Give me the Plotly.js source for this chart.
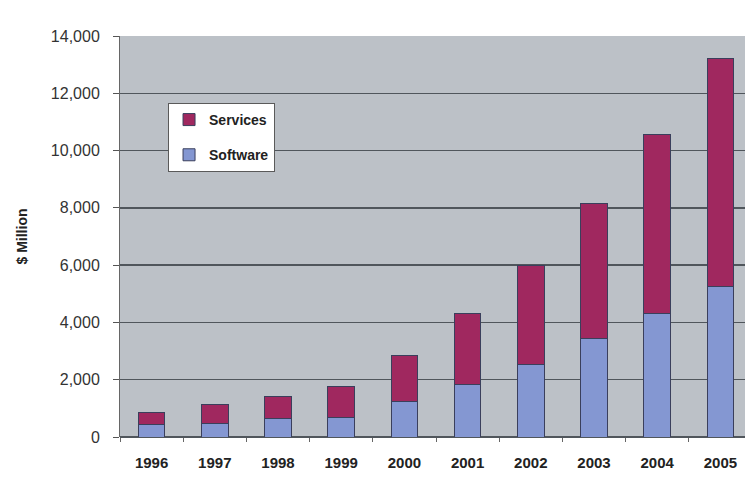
<!DOCTYPE html>
<html>
<head>
<meta charset="utf-8">
<script src="https://cdn.plot.ly/plotly-3.0.1.min.js"></script>
<style>
html,body{margin:0;padding:0;overflow:hidden;background:#fff;}
#chart{width:752px;height:478px;}
</style>
</head>
<body>
<div id="chart"></div>
<script>
const years = ["1996","1997","1998","1999","2000","2001","2002","2003","2004","2005"];
const software = [450, 470, 640, 680, 1225, 1850, 2530, 3450, 4320, 5250];
const services = [420, 650, 760, 1080, 1635, 2450, 3470, 4700, 6250, 7950];
const yTicks = [0, 2000, 4000, 6000, 8000, 10000, 12000, 14000];
const yTickLabels = ["0", "2,000", "4,000", "6,000", "8,000", "10,000", "12,000", "14,000"];

const lineStyle = {color: "#3a3f5c", width: 1};
const traces = [
  {type: "bar", name: "Software", x: years, y: software, legendgroup: "a", legendrank: 2,
   marker: {color: "#8497D2", line: lineStyle}, hoverinfo: "skip"},
  {type: "bar", name: "Services", x: years, y: services, legendgroup: "b", legendrank: 1,
   marker: {color: "#A0285F", line: lineStyle}, hoverinfo: "skip"}
];

const layout = {
  width: 752, height: 478,
  margin: {l: 120, r: 0, t: 36, b: 41},
  paper_bgcolor: "#ffffff",
  plot_bgcolor: "#BCC1C7",
  barmode: "stack",
  bargap: 0.58,
  showlegend: true,
  legend: {
    x: 0.076, y: 0.833, xanchor: "left", yanchor: "top",
    bgcolor: "#ffffff", bordercolor: "#5a5a5a", borderwidth: 1,
    traceorder: "grouped", tracegroupgap: 14,
    font: {family: "Liberation Sans, Arial, sans-serif", size: 14, color: "#222", weight: "bold"},
    itemwidth: 30
  },
  xaxis: {
    type: "category",
    tickson: "boundaries",
    ticks: "outside", ticklen: 4, tickcolor: "#666",
    showline: false, showgrid: false,
    tickfont: {family: "Liberation Sans, Arial, sans-serif", size: 15, color: "#222", weight: "bold"},
    ticklabelstandoff: 15
  },
  yaxis: {
    range: [0, 14000],
    tickvals: yTicks, ticktext: yTickLabels,
    ticks: "outside", ticklen: 6, tickcolor: "#555",
    showline: true, linecolor: "#666", linewidth: 1,
    showgrid: true, gridcolor: "#50565c", gridwidth: 1.3,
    zeroline: true, zerolinecolor: "#50565c", zerolinewidth: 1.3,
    tickfont: {family: "Liberation Sans, Arial, sans-serif", size: 16, color: "#333"},
    ticklabelstandoff: 10,
    title: {text: "$ Million", standoff: 19,
      font: {family: "Liberation Sans, Arial, sans-serif", size: 14, color: "#222", weight: "bold"}}
  }
};

Plotly.newPlot("chart", traces, layout, {displayModeBar: false, staticPlot: true});
</script>
</body>
</html>
